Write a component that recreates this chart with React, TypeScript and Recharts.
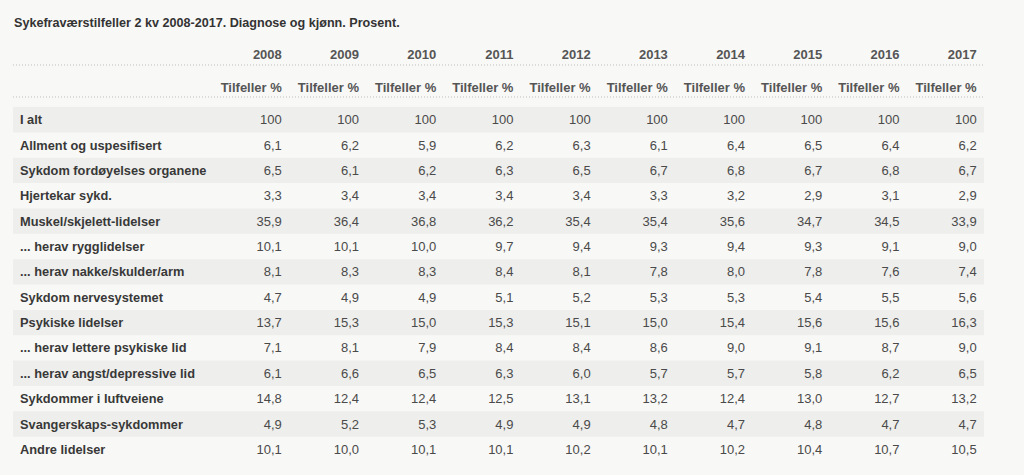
import { ScatterChart, Scatter, XAxis, YAxis, ReferenceArea, ReferenceLine } from 'recharts'

const title = 'Sykefraværstilfeller 2 kv 2008-2017. Diagnose og kjønn. Prosent.'
const years = ['2008', '2009', '2010', '2011', '2012', '2013', '2014', '2015', '2016', '2017']
const subHeader = 'Tilfeller %'

const diagnoses = [
  'I alt',
  'Allment og uspesifisert',
  'Sykdom fordøyelses organene',
  'Hjertekar sykd.',
  'Muskel/skjelett-lidelser',
  '... herav rygglidelser',
  '... herav nakke/skulder/arm',
  'Sykdom nervesystemet',
  'Psykiske lidelser',
  '... herav lettere psykiske lid',
  '... herav angst/depressive lid',
  'Sykdommer i luftveiene',
  'Svangerskaps-sykdommer',
  'Andre lidelser',
]

const iAlt = [100, 100, 100, 100, 100, 100, 100, 100, 100, 100]
const allment = [6.1, 6.2, 5.9, 6.2, 6.3, 6.1, 6.4, 6.5, 6.4, 6.2]
const fordoyelse = [6.5, 6.1, 6.2, 6.3, 6.5, 6.7, 6.8, 6.7, 6.8, 6.7]
const hjertekar = [3.3, 3.4, 3.4, 3.4, 3.4, 3.3, 3.2, 2.9, 3.1, 2.9]
const muskel = [35.9, 36.4, 36.8, 36.2, 35.4, 35.4, 35.6, 34.7, 34.5, 33.9]
const rygg = [10.1, 10.1, 10.0, 9.7, 9.4, 9.3, 9.4, 9.3, 9.1, 9.0]
const nakke = [8.1, 8.3, 8.3, 8.4, 8.1, 7.8, 8.0, 7.8, 7.6, 7.4]
const nerve = [4.7, 4.9, 4.9, 5.1, 5.2, 5.3, 5.3, 5.4, 5.5, 5.6]
const psykiske = [13.7, 15.3, 15.0, 15.3, 15.1, 15.0, 15.4, 15.6, 15.6, 16.3]
const lettere = [7.1, 8.1, 7.9, 8.4, 8.4, 8.6, 9.0, 9.1, 8.7, 9.0]
const angst = [6.1, 6.6, 6.5, 6.3, 6.0, 5.7, 5.7, 5.8, 6.2, 6.5]
const luftveier = [14.8, 12.4, 12.4, 12.5, 13.1, 13.2, 12.4, 13.0, 12.7, 13.2]
const svangerskap = [4.9, 5.2, 5.3, 4.9, 4.9, 4.8, 4.7, 4.8, 4.7, 4.7]
const andre = [10.1, 10.0, 10.1, 10.1, 10.2, 10.1, 10.2, 10.4, 10.7, 10.5]

const values = [iAlt, allment, fordoyelse, hjertekar, muskel, rygg, nakke, nerve, psykiske, lettere, angst, luftveier, svangerskap, andre]

const FONT = '"Liberation Sans", Arial, sans-serif'

const fmt = (v: number) => (v === 100 ? '100' : v.toFixed(1).replace('.', ','))

const cells = values.flatMap((row, r) => row.map((v, c) => ({ col: c, row: r, v })))

const YearTick = (props: any) => {
  const { x, payload } = props
  return (
    <g>
      <text x={x} y={54} dy="0.35em" textAnchor="end" fontSize={13} fontWeight="bold" fill="#555" fontFamily={FONT}>
        {years[payload.value]}
      </text>
      <text x={x} y={87} dy="0.35em" textAnchor="end" fontSize={13} fontWeight="bold" fill="#555" fontFamily={FONT}>
        {subHeader}
      </text>
    </g>
  )
}

const LabelTick = (props: any) => {
  const { y, payload } = props
  return (
    <text x={20} y={y} dy="0.35em" textAnchor="start" fontSize={12.8} fontWeight="bold" fill="#383838" fontFamily={FONT}>
      {diagnoses[payload.value]}
    </text>
  )
}

const ValueCell = (props: any) => {
  const { cx, cy, payload } = props
  return (
    <text x={cx} y={cy} dy="0.35em" textAnchor="end" fontSize={13} fill="#4a4a4a" fontFamily={FONT}>
      {fmt(payload.v)}
    </text>
  )
}

export default function App() {
  return (
    <div style={{ position: 'absolute', left: 0, top: 0, width: 1024, height: 475, background: '#f8f8f6', fontFamily: FONT }}>
      <div style={{ position: 'absolute', left: 14, top: 15, fontSize: 12.6, fontWeight: 'bold', color: '#333', lineHeight: '16px' }}>
        {title}
      </div>
      <ScatterChart width={1024} height={475} margin={{ top: 0, right: 40, bottom: 0, left: 13 }}>
        {diagnoses.map((d, r) =>
          r % 2 === 0 ? (
            <ReferenceArea key={d} y1={r - 0.5} y2={r + 0.5} fill="#eeeeec" fillOpacity={1} stroke="none" ifOverflow="visible" />
          ) : null
        )}
        <ReferenceLine y={-2.157} stroke="#bdbdbd" strokeDasharray="1 2" ifOverflow="visible" />
        <ReferenceLine y={-0.895} stroke="#bdbdbd" strokeDasharray="1 2" ifOverflow="visible" />
        <XAxis
          type="number"
          dataKey="col"
          domain={[-3.482, 9.095]}
          ticks={years.map((_, i) => i)}
          orientation="top"
          mirror
          axisLine={false}
          tickLine={false}
          tick={<YearTick />}
          allowDataOverflow
        />
        <YAxis
          type="number"
          dataKey="row"
          domain={[-4.72, 14.01]}
          reversed
          ticks={diagnoses.map((_, i) => i)}
          mirror
          axisLine={false}
          tickLine={false}
          tick={<LabelTick />}
          allowDataOverflow
        />
        <Scatter data={cells} shape={<ValueCell />} isAnimationActive={false} />
      </ScatterChart>
    </div>
  )
}
